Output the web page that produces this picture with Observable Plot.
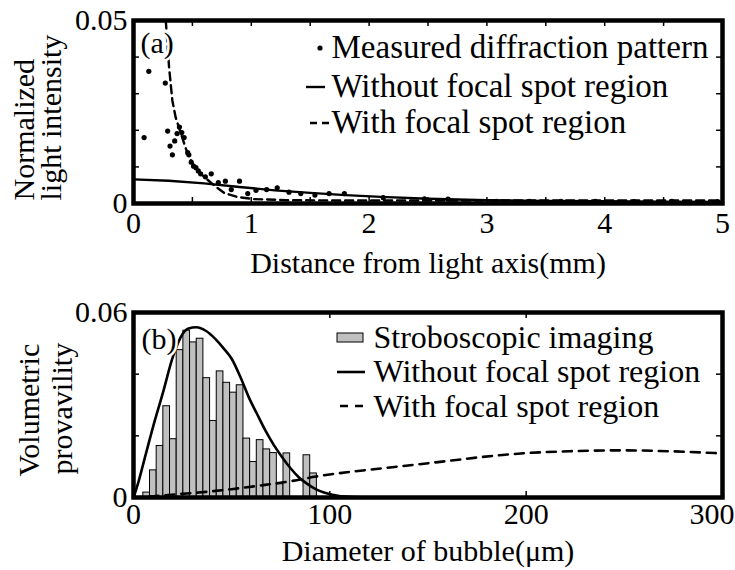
<!DOCTYPE html>
<html><head><meta charset="utf-8">
<script src="https://cdn.jsdelivr.net/npm/d3@7"></script>
<script src="https://cdn.jsdelivr.net/npm/@observablehq/plot@0.6"></script>
<style>
body{margin:0;background:#fff}
#chart{width:735px;height:570px;background:#fff}
#chart svg{display:block;overflow:visible}
</style></head><body><div id="chart"></div>
<script>
// ---------- Panel (a) data ----------
const measuredX = [0.09,0.13,0.27,0.29,0.31,0.33,0.35,0.37,0.39,0.41,0.43,0.46,0.47,0.49,0.51,0.53,0.55,0.57,0.61,0.66,0.72,0.78,0.83,0.90,0.97,1.04,1.13,1.22,1.32,1.42,1.54,1.66,1.79,2.12,2.47,2.67,3.08,3.36,3.63,3.92,4.25,4.57,4.96];
const measuredY = [0.018,0.0361,0.0329,0.0198,0.0157,0.0133,0.0171,0.0191,0.0209,0.0194,0.018,0.0139,0.0133,0.0113,0.0102,0.0098,0.0089,0.0081,0.0073,0.0081,0.0057,0.0061,0.0038,0.0061,0.0027,0.0036,0.0038,0.0043,0.0031,0.0027,0.0023,0.0027,0.0027,0.0016,0.0013,0.0012,0.0006,0.0006,0.0006,0.0006,0.0005,0.0006,0.0005];
const withoutAX = [0,0.3,0.6,0.9,1.2,1.5,1.8,2.1,2.5,3,3.5,4,4.5,5];
const withoutAY = [0.0066,0.0062,0.0055,0.0045,0.0036,0.0029,0.0023,0.0018,0.0013,0.0009,0.0007,0.0006,0.0005,0.0004];
const withAX = [0.274,0.302,0.33,0.358,0.40,0.441,0.475,0.53,0.61,0.69,0.77,0.88,1.02,1.3,2,3,4,5];
const withAY = [0.05,0.0372,0.0281,0.0235,0.0194,0.0153,0.0125,0.0093,0.007,0.0048,0.0029,0.0018,0.0012,0.0009,0.0008,0.0008,0.0008,0.0008];
const xTickLabelsA = [0,1,2,3,4,5];
const xMinorTicksA = [0.5,1,1.5,2,2.5,3,3.5,4,4.5];
const yTickLabelsA = [0,0.05];
const yMinorTicksA = [0.01,0.02,0.03,0.04];

// ---------- Panel (b) data ----------
const binLeft  = [5.0,8.4,11.8,15.2,18.6,22.0,25.4,28.8,32.2,35.6,39.0,42.4,45.8,49.2,52.6,56.0,59.4,62.8,66.2,69.6,73.0,76.4,86.6,90.0];
const binRight = [8.4,11.8,15.2,18.6,22.0,25.4,28.8,32.2,35.6,39.0,42.4,45.8,49.2,52.6,56.0,59.4,62.8,66.2,69.6,73.0,76.4,79.8,90.0,93.4];
const binValue = [0.0016,0.0088,0.0167,0.0296,0.0189,0.0478,0.0541,0.0503,0.0515,0.0387,0.0248,0.0409,0.0372,0.034,0.0364,0.0191,0.0115,0.0186,0.0156,0.0144,0.0043,0.0143,0.0137,0.0078];
const withoutBX = [0,2.5,5,10,15,20,25,28,32,37,42,46,50,54.5,58.8,63,67.3,71.5,75.8,80,84.3,88.5,92.8,97,101.3,110,120,140,300];
const withoutBY = [0,0.005,0.011,0.023,0.034,0.0455,0.053,0.0548,0.0552,0.054,0.0512,0.0483,0.045,0.039,0.0324,0.027,0.0216,0.017,0.013,0.0095,0.0065,0.0044,0.0027,0.0016,0.0009,0.0002,0.00005,0,0];
const withBX = [0,10,23,33,50,67,81,93,110,120,154,188,200,222,248,273,300];
const withBY = [0,0.0004,0.0011,0.0016,0.0027,0.0041,0.0054,0.0068,0.0083,0.009,0.0114,0.0138,0.0144,0.015,0.0153,0.015,0.0143];
const xTickLabelsB = [0,100,200,300];
const xMinorTicksB = [100,200];
const yTickLabelsB = [0,0.06];
const yMinorTicksB = [0.02,0.04];

const legendA = ["Measured diffraction pattern","Without focal spot region","With focal spot region"];
const legendB = ["Stroboscopic imaging","Without focal spot region","With focal spot region"];

const FONT = "'Liberation Serif','Times New Roman',serif";
const W = 735, ML = 133, MR = 13;
const fmt = d => String(d);

function zip(xs, ys){ return xs.map((x,i)=>({x, y: ys[i]})); }

function inwardTicks(xMinor, yMinor, fw, fh){
  return [
    Plot.ruleX(xMinor, {insetBottom: fh - 6, stroke: "black", strokeWidth: 1.5}),
    Plot.ruleX(xMinor, {insetTop: fh - 6, stroke: "black", strokeWidth: 1.5}),
    Plot.ruleY(yMinor, {insetRight: fw - 6, stroke: "black", strokeWidth: 1.5}),
    Plot.ruleY(yMinor, {insetLeft: fw - 6, stroke: "black", strokeWidth: 1.5})
  ];
}
function legendText(labels, dx, dys, size){
  return labels.map((t, i) => Plot.text([t], {text: d => d, frameAnchor: "top-left", textAnchor: "start", lineAnchor: "bottom", dx, dy: dys[i], fontSize: size, fill: "black"}));
}

// ---------- Panel (a) ----------
const HA = 290, MTA = 20, MBA = 87;
const fwA = W - ML - MR, fhA = HA - MTA - MBA;
const plotA = Plot.plot({
  width: W, height: HA, marginLeft: ML, marginRight: MR, marginTop: MTA, marginBottom: MBA,
  style: {fontFamily: FONT, fontSize: "30px", color: "black", background: "white", overflow: "visible"},
  x: {domain: [0, 5]},
  y: {domain: [0, 0.05]},
  marks: [
    ...inwardTicks(xMinorTicksA, yMinorTicksA, fwA, fhA),
    Plot.line(zip(withoutAX, withoutAY), {x: "x", y: "y", stroke: "black", strokeWidth: 2.4, clip: true}),
    Plot.line(zip(withAX, withAY), {x: "x", y: "y", stroke: "black", strokeWidth: 2.4, strokeDasharray: "8,5", clip: true}),
    Plot.dot(zip(measuredX, measuredY), {x: "x", y: "y", r: 2.6, fill: "black", stroke: "none"}),
    Plot.frame({stroke: "black", strokeWidth: 4.5}),
    Plot.axisX(xTickLabelsA, {anchor: "bottom", tickSize: 0, tickPadding: 8, label: null, fontSize: 30, tickFormat: fmt}),
    Plot.axisY(yTickLabelsA, {anchor: "left", tickSize: 0, tickPadding: 6, label: null, fontSize: 30, tickFormat: fmt}),
    Plot.text(["(a)"], {text: d => d, frameAnchor: "top-left", textAnchor: "start", lineAnchor: "bottom", dx: 7, dy: 32, fontSize: 30, fill: "black", stroke: "white", strokeWidth: 5, paintOrder: "stroke"}),
    ...legendText(legendA, 198, [37, 76.5, 112], 33),
    Plot.text(["Distance from light axis(mm)"], {text: d => d, frameAnchor: "bottom", lineAnchor: "bottom", dy: 69, fontSize: 30}),
    Plot.text(["Normalized"], {text: d => d, frameAnchor: "bottom-left", rotate: -90, textAnchor: "start", lineAnchor: "bottom", dx: -100, dy: -3, fontSize: 30}),
    Plot.text(["light intensity"], {text: d => d, frameAnchor: "bottom-left", rotate: -90, textAnchor: "start", lineAnchor: "bottom", dx: -73, dy: -3, fontSize: 30})
  ]
});

// ---------- Panel (b) ----------
const HB = 280, MTB = 22, MBB = 73;
const fwB = W - ML - MR, fhB = HB - MTB - MBB;
const plotB = Plot.plot({
  width: W, height: HB, marginLeft: ML, marginRight: MR, marginTop: MTB, marginBottom: MBB,
  style: {fontFamily: FONT, fontSize: "30px", color: "black", background: "white", overflow: "visible"},
  x: {domain: [0, 300]},
  y: {domain: [0, 0.06]},
  marks: [
    ...inwardTicks(xMinorTicksB, yMinorTicksB, fwB, fhB),
    Plot.rectY(binValue.map((v,i)=>({x1: binLeft[i], x2: binRight[i], y: v})), {x1: "x1", x2: "x2", y: "y", fill: "#c0c0c0", stroke: "black", strokeWidth: 1}),
    Plot.line(zip(withoutBX, withoutBY), {x: "x", y: "y", stroke: "black", strokeWidth: 2.6, curve: "monotone-x", clip: true}),
    Plot.line(zip(withBX, withBY), {x: "x", y: "y", stroke: "black", strokeWidth: 2.6, strokeDasharray: "9,7", curve: "monotone-x", clip: true}),
    Plot.frame({stroke: "black", strokeWidth: 4.5}),
    Plot.axisX(xTickLabelsB.slice(0, 3), {anchor: "bottom", tickSize: 0, tickPadding: 5, label: null, fontSize: 30, tickFormat: fmt}),
    Plot.axisX(xTickLabelsB.slice(3), {anchor: "bottom", tickSize: 0, tickPadding: 5, label: null, fontSize: 30, tickFormat: fmt, textAnchor: "end", dx: 12}),
    Plot.axisY(yTickLabelsB, {anchor: "left", tickSize: 0, tickPadding: 6, label: null, fontSize: 30, tickFormat: fmt}),
    Plot.text(["(b)"], {text: d => d, frameAnchor: "top-left", textAnchor: "start", lineAnchor: "bottom", dx: 8, dy: 36, fontSize: 30, fill: "black", stroke: "white", strokeWidth: 5, paintOrder: "stroke"}),
    ...legendText(legendB, 240, [35, 69.5, 104], 32),
    Plot.text(["Diameter of bubble(μm)"], {text: d => d, frameAnchor: "bottom", lineAnchor: "bottom", dy: 63, fontSize: 30}),
    Plot.text(["Volumetric"], {text: d => d, frameAnchor: "bottom-left", rotate: -90, textAnchor: "start", lineAnchor: "bottom", dx: -95, dy: -21, fontSize: 30}),
    Plot.text(["provavility"], {text: d => d, frameAnchor: "bottom-left", rotate: -90, textAnchor: "start", lineAnchor: "bottom", dx: -62, dy: -23, fontSize: 30})
  ]
});

const root = document.getElementById("chart");
root.appendChild(plotA);
root.appendChild(plotB);

// Legend symbols (a)
const sa = d3.select(plotA);
sa.append("circle").attr("cx", 320).attr("cy", 48).attr("r", 2.6).attr("fill", "black");
sa.append("line").attr("x1", 306).attr("x2", 325).attr("y1", 87).attr("y2", 87).attr("stroke", "black").attr("stroke-width", 2.4);
sa.append("line").attr("x1", 310).attr("x2", 329).attr("y1", 123).attr("y2", 123).attr("stroke", "black").attr("stroke-width", 2.4).attr("stroke-dasharray", "7,5");

// Legend symbols (b), panel b svg starts at page y = HA
const sb = d3.select(plotB);
const oy = -HA;
sb.append("rect").attr("x", 337).attr("y", 333 + oy).attr("width", 26).attr("height", 9).attr("fill", "#c0c0c0").attr("stroke", "black").attr("stroke-width", 1);
sb.append("line").attr("x1", 337).attr("x2", 365).attr("y1", 372 + oy).attr("y2", 372 + oy).attr("stroke", "black").attr("stroke-width", 2.6);
sb.append("line").attr("x1", 340).attr("x2", 364).attr("y1", 406 + oy).attr("y2", 406 + oy).attr("stroke", "black").attr("stroke-width", 2.6).attr("stroke-dasharray", "8,7");
</script>
</body></html>
